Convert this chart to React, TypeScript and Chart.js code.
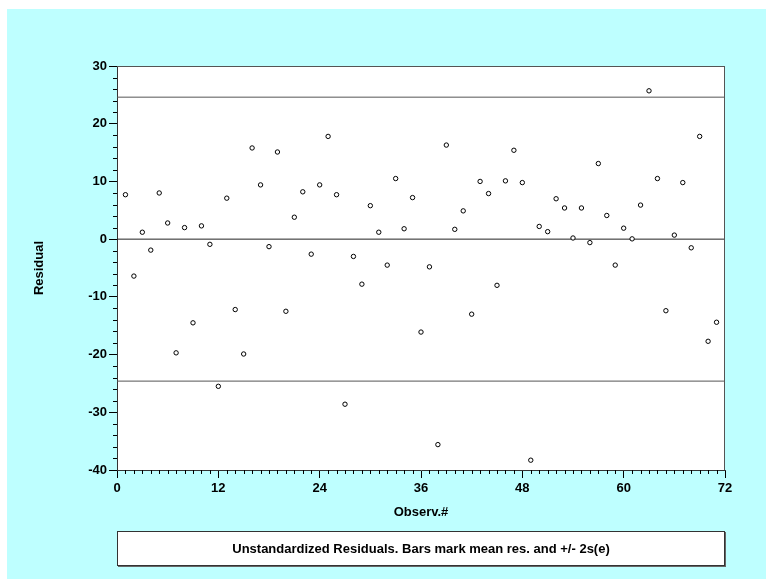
import React, { useEffect, useRef } from "react";
import { Chart, registerables } from "chart.js";

Chart.register(...registerables);

// Residual per observation number (observations 1..71)
const residuals: number[] = [
  7.7, -6.4, 1.2, -1.9, 8.0, 2.8, -19.7, 2.0, -14.5, 2.3,
  -0.9, -25.5, 7.1, -12.2, -19.9, 15.8, 9.4, -1.3, 15.1, -12.5,
  3.8, 8.2, -2.6, 9.4, 17.8, 7.7, -28.6, -3.0, -7.8, 5.8,
  1.2, -4.5, 10.5, 1.8, 7.2, -16.1, -4.8, -35.6, 16.3, 1.7,
  4.9, -13.0, 10.0, 7.9, -8.0, 10.1, 15.4, 9.8, -38.3, 2.2,
  1.3, 7.0, 5.4, 0.2, 5.4, -0.6, 13.1, 4.1, -4.5, 1.9,
  0.05, 5.9, 25.7, 10.5, -12.4, 0.7, 9.8, -1.5, 17.8, -17.7,
  -14.4,
];
const meanResidual = 0;
const twoSE = 24.6;
const xRange = [0, 72];
const yRange = [-40, 30];
const xTickStep = 12;
const yTickStep = 10;
const xMinorStep = 1;
const yMinorStep = 2;
const xLabel = "Observ.#";
const yLabel = "Residual";
const caption = "Unstandardized Residuals. Bars mark mean res. and +/- 2s(e)";

const FONT = "'Liberation Sans', Arial, Helvetica, sans-serif";
const CYAN = "#BEFFFF";
const FS = 13;

const decorPlugin = {
  id: "decor",
  beforeDraw(chart: any) {
    const { ctx, chartArea, width, height } = chart;
    ctx.save();
    ctx.fillStyle = "#ffffff";
    ctx.fillRect(0, 0, width, height);
    ctx.fillStyle = CYAN;
    ctx.fillRect(7, 9, width - 7, height - 9);
    ctx.fillStyle = "#ffffff";
    ctx.fillRect(chartArea.left, chartArea.top, chartArea.right - chartArea.left, chartArea.bottom - chartArea.top);
    ctx.restore();
  },
  afterDraw(chart: any) {
    const { ctx, chartArea } = chart;
    const xs = chart.scales.x;
    const ys = chart.scales.y;
    ctx.save();
    // frame top and right
    ctx.strokeStyle = "#555";
    ctx.lineWidth = 1;
    ctx.beginPath();
    ctx.moveTo(chartArea.left, chartArea.top + 0.5);
    ctx.lineTo(chartArea.right, chartArea.top + 0.5);
    ctx.moveTo(chartArea.right - 0.5, chartArea.top);
    ctx.lineTo(chartArea.right - 0.5, chartArea.bottom);
    ctx.stroke();
    // minor ticks
    ctx.strokeStyle = "#000";
    ctx.beginPath();
    for (let v = yRange[0]; v <= yRange[1]; v += yMinorStep) {
      if (v % yTickStep === 0) continue;
      const p = Math.round(ys.getPixelForValue(v)) + 0.5;
      ctx.moveTo(chartArea.left - 4, p);
      ctx.lineTo(chartArea.left, p);
    }
    for (let v = xRange[0]; v <= xRange[1]; v += xMinorStep) {
      if (v % xTickStep === 0) continue;
      const p = Math.round(xs.getPixelForValue(v)) + 0.5;
      ctx.moveTo(p, chartArea.bottom);
      ctx.lineTo(p, chartArea.bottom + 4);
    }
    ctx.stroke();
    // caption box
    const bx = chartArea.left;
    const bw = chartArea.right - chartArea.left;
    const by = chartArea.bottom + 61;
    const bh = 35;
    ctx.fillStyle = "#666";
    ctx.fillRect(bx + 1, by + 1, bw, bh);
    ctx.fillStyle = "#fff";
    ctx.fillRect(bx, by, bw, bh);
    ctx.strokeStyle = "#333";
    ctx.strokeRect(bx + 0.5, by + 0.5, bw - 1, bh - 1);
    ctx.fillStyle = "#000";
    ctx.font = `bold ${FS}px ${FONT}`;
    ctx.textAlign = "center";
    ctx.textBaseline = "middle";
    ctx.fillText(caption, bx + bw / 2, by + bh / 2 + 1);
    ctx.restore();
  },
};

export default function App() {
  const ref = useRef<HTMLCanvasElement | null>(null);
  useEffect(() => {
    if (!ref.current) return;
    const points = residuals.map((r, i) => ({ x: i + 1, y: r }));
    const hline = (y: number) => [
      { x: xRange[0], y },
      { x: xRange[1], y },
    ];
    const lineDs = (y: number, color: string) => ({
      type: "line" as const,
      data: hline(y),
      borderColor: color,
      borderWidth: 1,
      pointRadius: 0,
      fill: false,
      order: 2,
    });
    const chart = new Chart(ref.current, {
      type: "scatter",
      data: {
        datasets: [
          {
            data: points,
            pointStyle: "circle",
            pointRadius: 2.2,
            pointBorderWidth: 1,
            pointBorderColor: "#000",
            pointBackgroundColor: "#fff",
            borderColor: "#000",
            backgroundColor: "#fff",
            order: 0,
          } as any,
          lineDs(meanResidual + twoSE, "#555") as any,
          lineDs(meanResidual, "#222") as any,
          lineDs(meanResidual - twoSE, "#555") as any,
        ],
      },
      options: {
        responsive: false,
        animation: false,
        devicePixelRatio: 1,
        layout: { padding: { top: 66, right: 41, left: 0, bottom: 0 } },
        plugins: {
          legend: { display: false },
          tooltip: { enabled: false },
        },
        scales: {
          x: {
            type: "linear",
            min: xRange[0],
            max: xRange[1],
            afterFit: (s: any) => {
              s.height = 109;
            },
            ticks: {
              stepSize: xTickStep,
              color: "#000",
              font: { family: FONT, size: FS, weight: "bold" },
              padding: 3,
              maxRotation: 0,
            },
            grid: { drawOnChartArea: false, tickLength: 8, color: "#000" },
            border: { display: true, color: "#333", width: 1 },
            title: {
              display: true,
              text: xLabel,
              color: "#000",
              font: { family: FONT, size: FS, weight: "bold" },
              padding: { top: 0, bottom: 59 },
            },
          },
          y: {
            type: "linear",
            min: yRange[0],
            max: yRange[1],
            afterFit: (s: any) => {
              s.width = 117;
            },
            ticks: {
              stepSize: yTickStep,
              color: "#000",
              font: { family: FONT, size: FS, weight: "bold" },
              padding: 2,
            },
            grid: { drawOnChartArea: false, tickLength: 8, color: "#000" },
            border: { display: true, color: "#333", width: 1 },
            title: {
              display: true,
              text: yLabel,
              color: "#000",
              font: { family: FONT, size: FS, weight: "bold" },
              padding: { top: 32, bottom: 0 },
            },
          },
        },
      } as any,
      plugins: [decorPlugin],
    });
    return () => chart.destroy();
  }, []);
  return (
    <div style={{ position: "absolute", left: 0, top: 0, width: 766, height: 579 }}>
      <canvas ref={ref} width={766} height={579} />
    </div>
  );
}
